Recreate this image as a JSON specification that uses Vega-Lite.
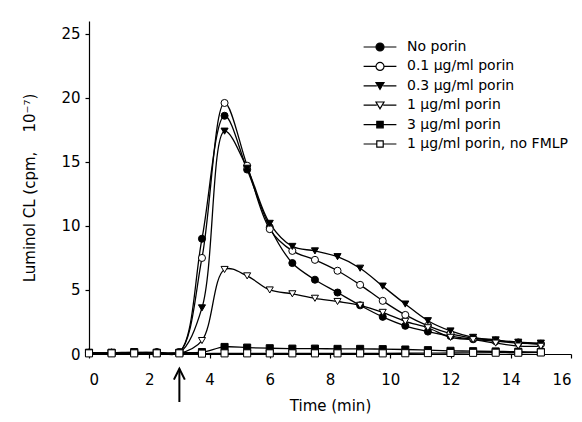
{
  "$schema": "https://vega.github.io/schema/vega-lite/v6.json",
  "autosize": {"type": "none"},
  "width": 482,
  "height": 333,
  "padding": {"left": 89, "top": 21, "right": 11, "bottom": 68},
  "background": "white",
  "config": {
    "view": {"stroke": null},
    "font": "DejaVu Sans",
    "axis": {
      "domainColor": "black", "tickColor": "black", "labelColor": "black", "titleColor": "black",
      "labelFont": "DejaVu Sans", "titleFont": "DejaVu Sans",
      "labelFontSize": 15, "titleFontSize": 15, "titleFontWeight": "normal",
      "grid": false, "tickSize": 4, "domainWidth": 1.2, "tickWidth": 1.2
    }
  },
  "datasets": {
    "cl": [
      {"t": 0, "v": 0.1, "s": "No porin"}, {"t": 0.75, "v": 0.1, "s": "No porin"}, {"t": 1.5, "v": 0.1, "s": "No porin"}, {"t": 2.25, "v": 0.15, "s": "No porin"}, {"t": 3, "v": 0.15, "s": "No porin"}, {"t": 3.75, "v": 9.0, "s": "No porin"}, {"t": 4.5, "v": 18.6, "s": "No porin"}, {"t": 5.25, "v": 14.4, "s": "No porin"}, {"t": 6, "v": 9.9, "s": "No porin"}, {"t": 6.75, "v": 7.1, "s": "No porin"}, {"t": 7.5, "v": 5.8, "s": "No porin"}, {"t": 8.25, "v": 4.8, "s": "No porin"}, {"t": 9, "v": 3.8, "s": "No porin"}, {"t": 9.75, "v": 2.9, "s": "No porin"}, {"t": 10.5, "v": 2.2, "s": "No porin"}, {"t": 11.25, "v": 1.75, "s": "No porin"}, {"t": 12, "v": 1.4, "s": "No porin"}, {"t": 12.75, "v": 1.15, "s": "No porin"}, {"t": 13.5, "v": 1.0, "s": "No porin"}, {"t": 14.25, "v": 0.85, "s": "No porin"}, {"t": 15, "v": 0.8, "s": "No porin"},
      {"t": 0, "v": 0.1, "s": "\u00a00.1 µg/ml porin"}, {"t": 0.75, "v": 0.1, "s": "\u00a00.1 µg/ml porin"}, {"t": 1.5, "v": 0.1, "s": "\u00a00.1 µg/ml porin"}, {"t": 2.25, "v": 0.1, "s": "\u00a00.1 µg/ml porin"}, {"t": 3, "v": 0.15, "s": "\u00a00.1 µg/ml porin"}, {"t": 3.75, "v": 7.5, "s": "\u00a00.1 µg/ml porin"}, {"t": 4.5, "v": 19.6, "s": "\u00a00.1 µg/ml porin"}, {"t": 5.25, "v": 14.7, "s": "\u00a00.1 µg/ml porin"}, {"t": 6, "v": 9.75, "s": "\u00a00.1 µg/ml porin"}, {"t": 6.75, "v": 8.05, "s": "\u00a00.1 µg/ml porin"}, {"t": 7.5, "v": 7.35, "s": "\u00a00.1 µg/ml porin"}, {"t": 8.25, "v": 6.5, "s": "\u00a00.1 µg/ml porin"}, {"t": 9, "v": 5.4, "s": "\u00a00.1 µg/ml porin"}, {"t": 9.75, "v": 4.15, "s": "\u00a00.1 µg/ml porin"}, {"t": 10.5, "v": 3.05, "s": "\u00a00.1 µg/ml porin"}, {"t": 11.25, "v": 2.2, "s": "\u00a00.1 µg/ml porin"}, {"t": 12, "v": 1.6, "s": "\u00a00.1 µg/ml porin"}, {"t": 12.75, "v": 1.25, "s": "\u00a00.1 µg/ml porin"}, {"t": 13.5, "v": 1.05, "s": "\u00a00.1 µg/ml porin"}, {"t": 14.25, "v": 0.9, "s": "\u00a00.1 µg/ml porin"}, {"t": 15, "v": 0.75, "s": "\u00a00.1 µg/ml porin"},
      {"t": 0, "v": 0.1, "s": "\u00a00.3 µg/ml porin"}, {"t": 0.75, "v": 0.1, "s": "\u00a00.3 µg/ml porin"}, {"t": 1.5, "v": 0.1, "s": "\u00a00.3 µg/ml porin"}, {"t": 2.25, "v": 0.1, "s": "\u00a00.3 µg/ml porin"}, {"t": 3, "v": 0.1, "s": "\u00a00.3 µg/ml porin"}, {"t": 3.75, "v": 3.6, "s": "\u00a00.3 µg/ml porin"}, {"t": 4.5, "v": 17.4, "s": "\u00a00.3 µg/ml porin"}, {"t": 5.25, "v": 14.5, "s": "\u00a00.3 µg/ml porin"}, {"t": 6, "v": 10.2, "s": "\u00a00.3 µg/ml porin"}, {"t": 6.75, "v": 8.4, "s": "\u00a00.3 µg/ml porin"}, {"t": 7.5, "v": 8.05, "s": "\u00a00.3 µg/ml porin"}, {"t": 8.25, "v": 7.6, "s": "\u00a00.3 µg/ml porin"}, {"t": 9, "v": 6.7, "s": "\u00a00.3 µg/ml porin"}, {"t": 9.75, "v": 5.3, "s": "\u00a00.3 µg/ml porin"}, {"t": 10.5, "v": 3.9, "s": "\u00a00.3 µg/ml porin"}, {"t": 11.25, "v": 2.6, "s": "\u00a00.3 µg/ml porin"}, {"t": 12, "v": 1.8, "s": "\u00a00.3 µg/ml porin"}, {"t": 12.75, "v": 1.3, "s": "\u00a00.3 µg/ml porin"}, {"t": 13.5, "v": 1.1, "s": "\u00a00.3 µg/ml porin"}, {"t": 14.25, "v": 0.92, "s": "\u00a00.3 µg/ml porin"}, {"t": 15, "v": 0.85, "s": "\u00a00.3 µg/ml porin"},
      {"t": 0, "v": 0.05, "s": "1 µg/ml porin"}, {"t": 0.75, "v": 0.05, "s": "1 µg/ml porin"}, {"t": 1.5, "v": 0.05, "s": "1 µg/ml porin"}, {"t": 2.25, "v": 0.05, "s": "1 µg/ml porin"}, {"t": 3, "v": 0.05, "s": "1 µg/ml porin"}, {"t": 3.75, "v": 1.05, "s": "1 µg/ml porin"}, {"t": 4.5, "v": 6.6, "s": "1 µg/ml porin"}, {"t": 5.25, "v": 6.1, "s": "1 µg/ml porin"}, {"t": 6, "v": 5.0, "s": "1 µg/ml porin"}, {"t": 6.75, "v": 4.7, "s": "1 µg/ml porin"}, {"t": 7.5, "v": 4.35, "s": "1 µg/ml porin"}, {"t": 8.25, "v": 4.1, "s": "1 µg/ml porin"}, {"t": 9, "v": 3.8, "s": "1 µg/ml porin"}, {"t": 9.75, "v": 3.25, "s": "1 µg/ml porin"}, {"t": 10.5, "v": 2.55, "s": "1 µg/ml porin"}, {"t": 11.25, "v": 2.05, "s": "1 µg/ml porin"}, {"t": 12, "v": 1.3, "s": "1 µg/ml porin"}, {"t": 12.75, "v": 1.12, "s": "1 µg/ml porin"}, {"t": 13.5, "v": 0.85, "s": "1 µg/ml porin"}, {"t": 14.25, "v": 0.62, "s": "1 µg/ml porin"}, {"t": 15, "v": 0.6, "s": "1 µg/ml porin"},
      {"t": 0, "v": 0.1, "s": "3 µg/ml porin"}, {"t": 0.75, "v": 0.1, "s": "3 µg/ml porin"}, {"t": 1.5, "v": 0.15, "s": "3 µg/ml porin"}, {"t": 2.25, "v": 0.1, "s": "3 µg/ml porin"}, {"t": 3, "v": 0.1, "s": "3 µg/ml porin"}, {"t": 3.75, "v": 0.15, "s": "3 µg/ml porin"}, {"t": 4.5, "v": 0.55, "s": "3 µg/ml porin"}, {"t": 5.25, "v": 0.5, "s": "3 µg/ml porin"}, {"t": 6, "v": 0.45, "s": "3 µg/ml porin"}, {"t": 6.75, "v": 0.42, "s": "3 µg/ml porin"}, {"t": 7.5, "v": 0.42, "s": "3 µg/ml porin"}, {"t": 8.25, "v": 0.4, "s": "3 µg/ml porin"}, {"t": 9, "v": 0.4, "s": "3 µg/ml porin"}, {"t": 9.75, "v": 0.38, "s": "3 µg/ml porin"}, {"t": 10.5, "v": 0.35, "s": "3 µg/ml porin"}, {"t": 11.25, "v": 0.3, "s": "3 µg/ml porin"}, {"t": 12, "v": 0.25, "s": "3 µg/ml porin"}, {"t": 12.75, "v": 0.22, "s": "3 µg/ml porin"}, {"t": 13.5, "v": 0.2, "s": "3 µg/ml porin"}, {"t": 14.25, "v": 0.18, "s": "3 µg/ml porin"}, {"t": 15, "v": 0.15, "s": "3 µg/ml porin"},
      {"t": 0, "v": 0.05, "s": "1 µg/ml porin, no FMLP"}, {"t": 0.75, "v": 0.05, "s": "1 µg/ml porin, no FMLP"}, {"t": 1.5, "v": 0.05, "s": "1 µg/ml porin, no FMLP"}, {"t": 2.25, "v": 0.05, "s": "1 µg/ml porin, no FMLP"}, {"t": 3, "v": 0.05, "s": "1 µg/ml porin, no FMLP"}, {"t": 3.75, "v": 0.03, "s": "1 µg/ml porin, no FMLP"}, {"t": 4.5, "v": 0.05, "s": "1 µg/ml porin, no FMLP"}, {"t": 5.25, "v": 0.05, "s": "1 µg/ml porin, no FMLP"}, {"t": 6, "v": 0.05, "s": "1 µg/ml porin, no FMLP"}, {"t": 6.75, "v": 0.05, "s": "1 µg/ml porin, no FMLP"}, {"t": 7.5, "v": 0.05, "s": "1 µg/ml porin, no FMLP"}, {"t": 8.25, "v": 0.05, "s": "1 µg/ml porin, no FMLP"}, {"t": 9, "v": 0.05, "s": "1 µg/ml porin, no FMLP"}, {"t": 9.75, "v": 0.05, "s": "1 µg/ml porin, no FMLP"}, {"t": 10.5, "v": 0.06, "s": "1 µg/ml porin, no FMLP"}, {"t": 11.25, "v": 0.07, "s": "1 µg/ml porin, no FMLP"}, {"t": 12, "v": 0.08, "s": "1 µg/ml porin, no FMLP"}, {"t": 12.75, "v": 0.09, "s": "1 µg/ml porin, no FMLP"}, {"t": 13.5, "v": 0.1, "s": "1 µg/ml porin, no FMLP"}, {"t": 14.25, "v": 0.1, "s": "1 µg/ml porin, no FMLP"}, {"t": 15, "v": 0.12, "s": "1 µg/ml porin, no FMLP"}
    ],
    "arrow": [{"t": 3, "y1": -1.15, "y2": -3.75}]
  },
  "layer": [
    {
      "data": {"name": "cl"},
      "mark": {"type": "line", "interpolate": "catmull-rom", "color": "black", "strokeWidth": 1.3},
      "encoding": {
        "x": {"field": "t", "type": "quantitative", "scale": {"domain": [0, 16]},
              "axis": {"title": "Time (min)", "values": [0, 2, 4, 6, 8, 10, 12, 14, 16], "labelPadding": 14, "titlePadding": 11}},
        "y": {"field": "v", "type": "quantitative", "scale": {"domain": [0, 25]},
              "axis": {"title": "Luminol CL (cpm,\u00a0\u00a0\u00a0 10⁻⁷)", "values": [0, 5, 10, 15, 20, 25], "labelPadding": 5, "titlePadding": 23}},
        "detail": {"field": "s"}
      }
    },
    {
      "data": {"name": "cl"},
      "mark": {"type": "point", "stroke": "black", "strokeWidth": 1, "opacity": 1, "size": 50},
      "encoding": {
        "x": {"field": "t", "type": "quantitative"},
        "y": {"field": "v", "type": "quantitative"},
        "shape": {"field": "s", "type": "nominal",
          "scale": {"domain": ["\u00a00.1 µg/ml porin", "No porin", "1 µg/ml porin", "\u00a00.3 µg/ml porin", "1 µg/ml porin, no FMLP", "3 µg/ml porin"],
                    "range": ["circle", "circle", "triangle-down", "triangle-down", "square", "square"]},
          "legend": null
        },
        "fill": {"field": "s", "type": "nominal",
          "scale": {"domain": ["No porin", "\u00a00.1 µg/ml porin", "\u00a00.3 µg/ml porin", "1 µg/ml porin", "3 µg/ml porin", "1 µg/ml porin, no FMLP"],
                    "range": ["black", "white", "black", "white", "black", "white"]},
          "legend": {
            "title": null, "orient": "none", "legendX": 284, "legendY": 19, "padding": 0,
            "labelFont": "DejaVu Sans", "labelFontSize": 14, "labelColor": "black", "labelLimit": 400,
            "symbolSize": 64, "labelOffset": 20, "rowPadding": 5.4, "symbolStrokeWidth": 1,
            "encoding": {
              "symbols": {
                "shape": {"value": {"expr": "['M-4.1,0H-1M1,0H4.1M-1,0A1,1,0,1,1,1,0A1,1,0,1,1,-1,0Z','M-4.1,0H-1M1,0H4.1M-1,0A1,1,0,1,1,1,0A1,1,0,1,1,-1,0Z','M-4.1,0H-0.8M0.8,0H4.1M-1,-0.8L1,-0.8L0,0.9Z','M-4.1,0H-0.8M0.8,0H4.1M-1,-0.8L1,-0.8L0,0.9Z','M-4.1,0H-0.8M0.8,0H4.1M-0.8,-0.8H0.8V0.8H-0.8Z','M-4.1,0H-0.8M0.8,0H4.1M-0.8,-0.8H0.8V0.8H-0.8Z'][datum.index]"}},
                "stroke": {"value": "black"},
                "strokeWidth": {"value": 1.2}
              }
            }
          }
        }
      }
    },
    {
      "data": {"name": "arrow"},
      "mark": {"type": "rule", "color": "black", "strokeWidth": 2},
      "encoding": {
        "x": {"field": "t", "type": "quantitative"},
        "y": {"field": "y1", "type": "quantitative"},
        "y2": {"field": "y2"}
      }
    },
    {
      "data": {"name": "arrow"},
      "mark": {"type": "point", "shape": "M-1,1L0,-1L1,1", "filled": false, "stroke": "black", "strokeWidth": 2, "size": 100, "strokeCap": "square", "opacity": 1, "yOffset": 5},
      "encoding": {
        "x": {"field": "t", "type": "quantitative"},
        "y": {"field": "y1", "type": "quantitative"}
      }
    }
  ]
}
